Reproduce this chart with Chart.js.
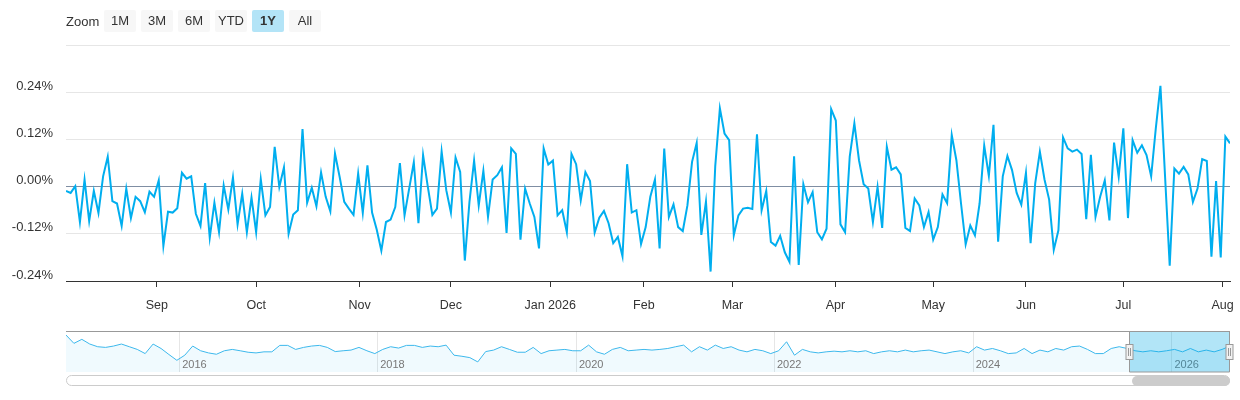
<!DOCTYPE html>
<html lang="en">
<head>
<meta charset="UTF-8">
<title>Daily change</title>
<script src="https://cdn.jsdelivr.net/npm/chart.js"></script>
<style>
    body {
        margin: 0;
        background: #ffffff;
        font-family: "Liberation Sans", Arial, sans-serif;
    }
    #wrap {
        position: relative;
        width: 1240px;
        height: 400px;
        overflow: hidden;
    }
    #mainChart { position: absolute; left: 0; top: 0; }
    #navChart { position: absolute; left: 0; top: 326px; }
    .zoom-bar {
        position: absolute;
        left: 66px;
        top: 10px;
        height: 22px;
        display: flex;
        align-items: center;
        font-size: 13px;
        color: #333;
        z-index: 2;
    }
    .zoom-bar .lbl { width: 38px; }
    .btn {
        width: 32px;
        height: 22px;
        line-height: 22px;
        text-align: center;
        background: #f7f7f7;
        border-radius: 2px;
        margin-right: 5px;
    }
    .btn.on { background: #b3e4f7; font-weight: bold; }
    .scroll-track {
        position: absolute;
        left: 66px;
        top: 375px;
        width: 1162px;
        height: 9px;
        border: 1px solid #cccccc;
        border-radius: 6px;
        background: #ffffff;
    }
    .scroll-thumb {
        position: absolute;
        left: 1132px;
        top: 376px;
        width: 98px;
        height: 10px;
        border-radius: 5px;
        background: #cccccc;
    }
</style>
</head>
<body>
<div id="wrap">
    <div class="zoom-bar">
        <span class="lbl">Zoom</span>
        <div class="btn">1M</div>
        <div class="btn">3M</div>
        <div class="btn">6M</div>
        <div class="btn">YTD</div>
        <div class="btn on">1Y</div>
        <div class="btn">All</div>
    </div>
    <canvas id="mainChart" width="1240" height="320"></canvas>
    <canvas id="navChart" width="1240" height="50"></canvas>
    <div class="scroll-track"></div>
    <div class="scroll-thumb"></div>
</div>

<script>
    // daily change in %, one value per trading day (Aug 2025 - Aug 2026)
    const values = [
        -0.011, -0.016, 0.001, -0.09, 0.018, -0.088, -0.011, -0.067, 0.026, 0.076,
        -0.037, -0.043, -0.10, -0.005, -0.08, -0.026, -0.037, -0.065, -0.013, -0.026,
        0.016, -0.151, -0.064, -0.066, -0.055, 0.035, 0.020, 0.026, -0.069, -0.10,
        0.009, -0.13, -0.041, -0.116, 0.003, -0.058, 0.023, -0.096, -0.018, -0.116,
        -0.028, -0.116, 0.019, -0.073, -0.052, 0.101, -0.001, 0.049, -0.12, -0.071,
        -0.06, 0.146, -0.041, -0.003, -0.05, 0.036, -0.026, -0.063, 0.084, 0.025,
        -0.039, -0.056, -0.072, 0.033, -0.067, 0.054, -0.066, -0.109, -0.163, -0.09,
        -0.084, -0.052, 0.060, -0.073, -0.005, 0.062, -0.093, 0.080, 0.001, -0.072,
        -0.056, 0.089, -0.009, -0.066, 0.074, 0.037, -0.188, -0.039, 0.066, -0.048,
        0.040, -0.077, 0.018, 0.029, 0.049, -0.118, 0.097, 0.083, -0.135, -0.005,
        -0.043, -0.077, -0.157, 0.097, 0.056, 0.066, -0.073, -0.06, -0.116, 0.083,
        0.057, -0.035, 0.037, 0.014, -0.117, -0.079, -0.062, -0.093, -0.144, -0.128,
        -0.177, 0.057, -0.066, -0.06, -0.146, -0.103, -0.026, 0.018, -0.157, 0.097,
        -0.077, -0.045, -0.103, -0.113, -0.048, 0.063, 0.111, -0.123, -0.038, -0.216,
        0.052, 0.199, 0.135, 0.118, -0.124, -0.073, -0.056, -0.054, -0.057, 0.133,
        -0.06, -0.011, -0.141, -0.15, -0.125, -0.167, -0.191, 0.077, -0.199, 0.006,
        -0.04, -0.014, -0.116, -0.134, -0.107, 0.197, 0.168, -0.096, -0.116, 0.076,
        0.161, 0.067, 0.006, -0.005, -0.09, -0.001, -0.105, 0.101, 0.043, 0.049,
        0.031, -0.105, -0.113, -0.03, -0.048, -0.103, -0.065, -0.135, -0.103, -0.02,
        -0.042, 0.131, 0.067, -0.043, -0.147, -0.099, -0.124, -0.043, 0.104, 0.027,
        0.157, -0.14, 0.026, 0.078, 0.042, -0.016, -0.046, 0.035, -0.144, 0.009,
        0.089, 0.018, -0.033, -0.161, -0.111, 0.125, 0.097, 0.089, 0.094, 0.083,
        -0.083, 0.081, -0.077, -0.026, 0.016, -0.086, 0.112, 0.025, 0.148, -0.08,
        0.118, 0.086, 0.105, 0.080, 0.026, 0.148, 0.256, 0.025, -0.201, 0.046,
        0.033, 0.050, 0.031, -0.039, -0.005, 0.07, 0.065, -0.178, 0.014, -0.18,
        0.127, 0.11
    ];

    // month ticks, as positions in the trading-day list
    const monthPos = [19.6, 41, 63.3, 83, 104.4, 124.6, 143.7, 165.9, 187, 207, 228, 249.4];
    const monthLabels = ['Sep', 'Oct', 'Nov', 'Dec', 'Jan 2026', 'Feb', 'Mar', 'Apr', 'May', 'Jun', 'Jul', 'Aug'];
    const yTicks = [-0.24, -0.12, 0, 0.12, 0.24, 0.36];

    // navigator: whole history 2015 - 2026, coarse
    const navValues = [
        1.2, 0.58, 0.88, 0.53, 0.33, 0.28, 0.38, 0.53, 0.33, 0.13,
        -0.18, 0.53, 0.2, -0.25, -0.68, -0.3, 0.38, 0.03, -0.13, -0.23,
        0.03, 0.13, 0.03, -0.08, -0.13, -0.05, -0.05, 0.43, 0.43, 0.13,
        0.28, 0.38, 0.43, 0.28, -0.03, 0.03, 0.08, 0.28, 0.03, -0.18,
        0.13, 0.33, 0.23, 0.43, 0.43, 0.28, 0.38, 0.33, 0.45, -0.3,
        -0.38, -0.48, -0.8, -0.03, 0.08, 0.33, 0.13, -0.08, -0.08, 0.28,
        -0.18, 0.03, 0.08, 0.13, 0.03, 0.03, 0.45, -0.05, -0.23, 0.13,
        0.28, 0.03, 0.08, 0.13, 0.08, 0.13, 0.2, 0.33, 0.45, -0.05,
        0.33, 0.08, 0.45, 0.2, 0.33, 0.08, -0.05, 0.13, 0.03, -0.18,
        0.03, 0.7, -0.3, 0.13, -0.05, -0.13, -0.05, 0, -0.05, 0.03,
        -0.05, 0.03, -0.18, -0.05, 0.03, -0.05, 0.08, -0.05, 0.03, 0.08,
        -0.05, -0.18, -0.05, 0.03, -0.13, 0.33, 0.08, 0.2, 0.03, -0.18,
        -0.13, 0.2, -0.18, 0.08, -0.05, 0.2, 0.08, 0.33, 0.38, 0.13,
        -0.18, -0.18, 0.2, 0.33, 0.2, 0.03, -0.05, 0.03, -0.05, 0.03,
        0.13, -0.05, 0.2, -0.05, 0.08, -0.05, 0.13, 0.38
    ];
    const navYearPos = [14.3, 39.3, 64.4, 89.4, 114.5, 139.6];
    const navYearLabels = ['2016', '2018', '2020', '2022', '2024', '2026'];
    const navRange = [134.3, 147];

    Chart.defaults.font.family = '"Liberation Sans", Arial, sans-serif';

    // Main chart
    new Chart(document.getElementById('mainChart'), {
        type: 'line',
        data: {
            datasets: [{
                data: values.map((v, i) => ({ x: i, y: v })),
                borderColor: '#00aeef',
                borderWidth: 2,
                pointRadius: 0,
                tension: 0,
                fill: false
            }]
        },
        options: {
            responsive: false,
            animation: false,
            events: [],
            layout: { padding: { top: 45, right: 10, left: 0, bottom: 0 } },
            plugins: {
                legend: { display: false },
                tooltip: { enabled: false }
            },
            scales: {
                x: {
                    type: 'linear',
                    min: 0,
                    max: values.length - 1,
                    afterBuildTicks: s => { s.ticks = monthPos.map(v => ({ value: v })); },
                    afterFit: s => {
                        s.height = 39;
                        s.paddingLeft = 0;
                        s.paddingRight = 0;
                    },
                    grid: { drawOnChartArea: false, drawTicks: true, tickLength: 6, color: '#333' },
                    border: { display: true, color: '#333', width: 1 },
                    ticks: {
                        autoSkip: false,
                        maxRotation: 0,
                        padding: 11,
                        color: '#333',
                        font: { size: 12.5 },
                        callback: (v, i) => monthLabels[i]
                    }
                },
                y: {
                    min: -0.24,
                    max: 0.36,
                    afterBuildTicks: s => { s.ticks = yTicks.map(v => ({ value: v })); },
                    afterFit: s => {
                        s.width = 66;
                        s.paddingTop = 0;
                        s.paddingBottom = 0;
                    },
                    grid: {
                        drawTicks: false,
                        color: c => {
                            if (!c.tick) return '#e6e6e6';
                            if (c.tick.value === 0) return '#7f8ea3';
                            if (c.tick.value === -0.24) return '#333';
                            return '#e6e6e6';
                        }
                    },
                    border: { display: false },
                    ticks: {
                        padding: 13,
                        labelOffset: -6,
                        color: '#333',
                        font: { size: 13 },
                        callback: v => Math.abs(v - 0.36) < 1e-9 ? '' : v.toFixed(2) + '%'
                    }
                }
            }
        }
    });

    // Navigator extras: year grid, labels, selected range mask, handles
    const navExtras = {
        id: 'navExtras',
        beforeDatasetsDraw(chart) {
            const { ctx, chartArea: a, scales: { x } } = chart;
            ctx.save();
            ctx.strokeStyle = '#e6e6e6';
            ctx.lineWidth = 1;
            navYearPos.forEach(p => {
                const px = Math.round(x.getPixelForValue(p)) + 0.5;
                ctx.beginPath();
                ctx.moveTo(px, a.top);
                ctx.lineTo(px, a.bottom);
                ctx.stroke();
            });
            ctx.restore();
        },
        afterDatasetsDraw(chart) {
            const { ctx, chartArea: a, scales: { x } } = chart;
            ctx.save();
            ctx.fillStyle = '#777';
            ctx.font = '11px "Liberation Sans", Arial, sans-serif';
            navYearPos.forEach((p, i) => {
                ctx.fillText(navYearLabels[i], x.getPixelForValue(p) + 3, a.bottom - 4);
            });

            const x0 = Math.round(x.getPixelForValue(navRange[0])) + 0.5;
            const x1 = Math.round(x.getPixelForValue(navRange[1])) - 0.5;
            ctx.fillStyle = 'rgba(0, 170, 230, 0.3)';
            ctx.fillRect(x0, a.top, x1 - x0, a.bottom - a.top);

            // outline
            ctx.strokeStyle = '#999';
            ctx.lineWidth = 1;
            ctx.beginPath();
            ctx.moveTo(a.left, a.top + 0.5);
            ctx.lineTo(a.right, a.top + 0.5);
            ctx.moveTo(x0, a.top);
            ctx.lineTo(x0, a.bottom);
            ctx.lineTo(x1, a.bottom);
            ctx.lineTo(x1, a.top);
            ctx.stroke();

            // handles
            const mid = Math.round((a.top + a.bottom) / 2);
            [x0, x1].forEach(px => {
                ctx.fillStyle = '#f2f2f2';
                ctx.fillRect(px - 3.5, mid - 7.5, 7, 15);
                ctx.strokeRect(px - 3.5, mid - 7.5, 7, 15);
                ctx.beginPath();
                ctx.moveTo(px - 1, mid - 4);
                ctx.lineTo(px - 1, mid + 4);
                ctx.moveTo(px + 1, mid - 4);
                ctx.lineTo(px + 1, mid + 4);
                ctx.stroke();
            });
            ctx.restore();
        }
    };

    // Navigator chart
    new Chart(document.getElementById('navChart'), {
        type: 'line',
        data: {
            datasets: [{
                data: navValues.map((v, i) => ({ x: i, y: v })),
                borderColor: '#3cb8ec',
                borderWidth: 1,
                backgroundColor: 'rgba(0, 170, 238, 0.06)',
                fill: 'start',
                pointRadius: 0,
                tension: 0
            }]
        },
        options: {
            responsive: false,
            animation: false,
            events: [],
            layout: { padding: { left: 66, right: 10, top: 5, bottom: 4 } },
            plugins: {
                legend: { display: false },
                tooltip: { enabled: false }
            },
            scales: {
                x: { type: 'linear', display: false, min: 0, max: navValues.length - 1 },
                y: { display: false, min: -1.55, max: 1.5 }
            }
        },
        plugins: [navExtras]
    });
</script>
</body>
</html>
